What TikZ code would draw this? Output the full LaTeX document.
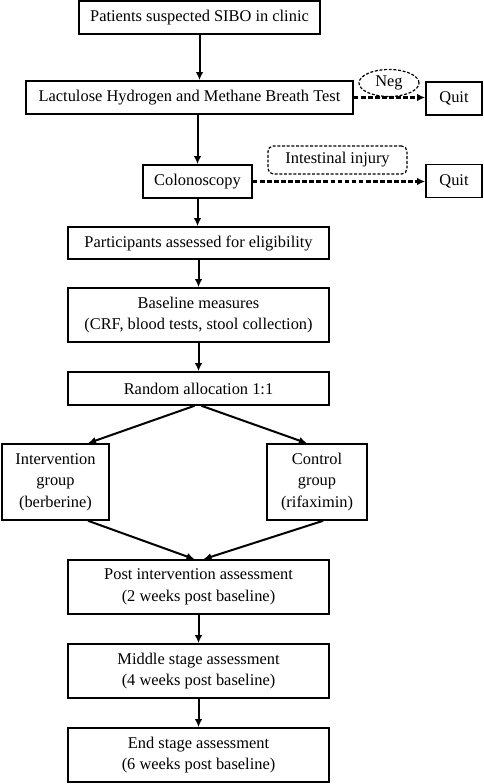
\documentclass[tikz,border=0pt]{standalone}
\usepackage{fontspec}
\setmainfont{Liberation Serif}
\usetikzlibrary{shapes.geometric,arrows.meta,calc}
\begin{document}
\begin{tikzpicture}[x=0.75pt,y=-0.75pt,
  every node/.style={inner sep=0pt,align=center,font=\fontsize{12.3}{16.2}\selectfont},
  box/.style={draw,line width=1.2pt},
  stage/.style={box,minimum width=195.75pt,minimum height=40.5pt},
  quit/.style={box,minimum width=42pt,minimum height=24.75pt},
  note/.style={draw,line width=0.9pt,dash pattern=on 2.2pt off 1.3pt},
  arr/.style={line width=1.5pt,-{Latex[length=6pt,width=5.5pt]}},
  darr/.style={arr,line width=1.7pt,dash pattern=on 3.5pt off 1.8pt}]
\useasboundingbox (0,0) rectangle (484,784);
\node[box,minimum width=180.75pt,minimum height=24.75pt] (patients) at (199.5,17.5) {Patients suspected SIBO in clinic};
\node[box,minimum width=245.25pt,minimum height=24.75pt] (breath) at (189.5,97.5) {Lactulose Hydrogen and Methane Breath Test};
\node[note,ellipse,minimum width=45pt,minimum height=20.25pt] (neg) at (389,83) {Neg};
\node[quit] (quit1) at (454,98.5) {Quit};
\node[box,minimum width=81.75pt,minimum height=24.75pt] (colon) at (197.5,181.5) {Colonoscopy};
\node[note,rounded corners=4pt,minimum width=104.25pt,minimum height=21pt] (injury) at (337.5,160) {Intestinal injury};
\node[quit] (quit2) at (454,181) {Quit};
\node[stage,minimum height=24pt] (elig) at (198.5,243) {Participants assessed for eligibility};
\node[stage] (base) at (198.5,315) {Baseline measures\\(CRF, blood tests, stool collection)};
\node[stage,minimum height=24.75pt] (rand) at (198.5,388.5) {Random allocation 1:1};
\node[box,minimum width=80.25pt,minimum height=57pt] (interv) at (55.5,482) {Intervention\\group\\(berberine)};
\node[box,minimum width=75pt,minimum height=57pt] (ctrl) at (317,482) {Control\\group\\(rifaximin)};
\node[stage] (post) at (198.5,587) {Post intervention assessment\\(2 weeks post baseline)};
\node[stage] (mid) at (198.5,671) {Middle stage assessment\\(4 weeks post baseline)};
\node[stage] (final) at (198.5,755) {End stage assessment\\(6 weeks post baseline)};
% screening
\draw[arr] (patients.south) -- (patients.south |- breath.north);
\draw[darr] (breath.east) -- (breath.east -| quit1.west);
\draw[arr] (colon.north |- breath.south) -- (colon.north);
\draw[darr] (colon.east) -- (colon.east -| quit2.west);
\draw[arr] (colon.south) -- (colon.south |- elig.north);
\draw[arr] (elig.south) -- (base.north);
\draw[arr] (base.south) -- (rand.north);
% allocation
\draw[arr] ($(rand.south)+(-4,0)$) -- ($(interv.north)!0.6!(interv.north east)$);
\draw[arr] ($(rand.south)+(3,0)$) -- ($(ctrl.north)!0.2!(ctrl.north west)$);
\draw[arr] ($(interv.south)!0.6!(interv.south east)$) -- ($(post.north)+(-4,0)$);
\draw[arr] ($(ctrl.south)!0.12!(ctrl.south east)$) -- ($(post.north)+(5,0)$);
% follow-up
\draw[arr] (post.south) -- (mid.north);
\draw[arr] (mid.south) -- (final.north);
\end{tikzpicture}
\end{document}
